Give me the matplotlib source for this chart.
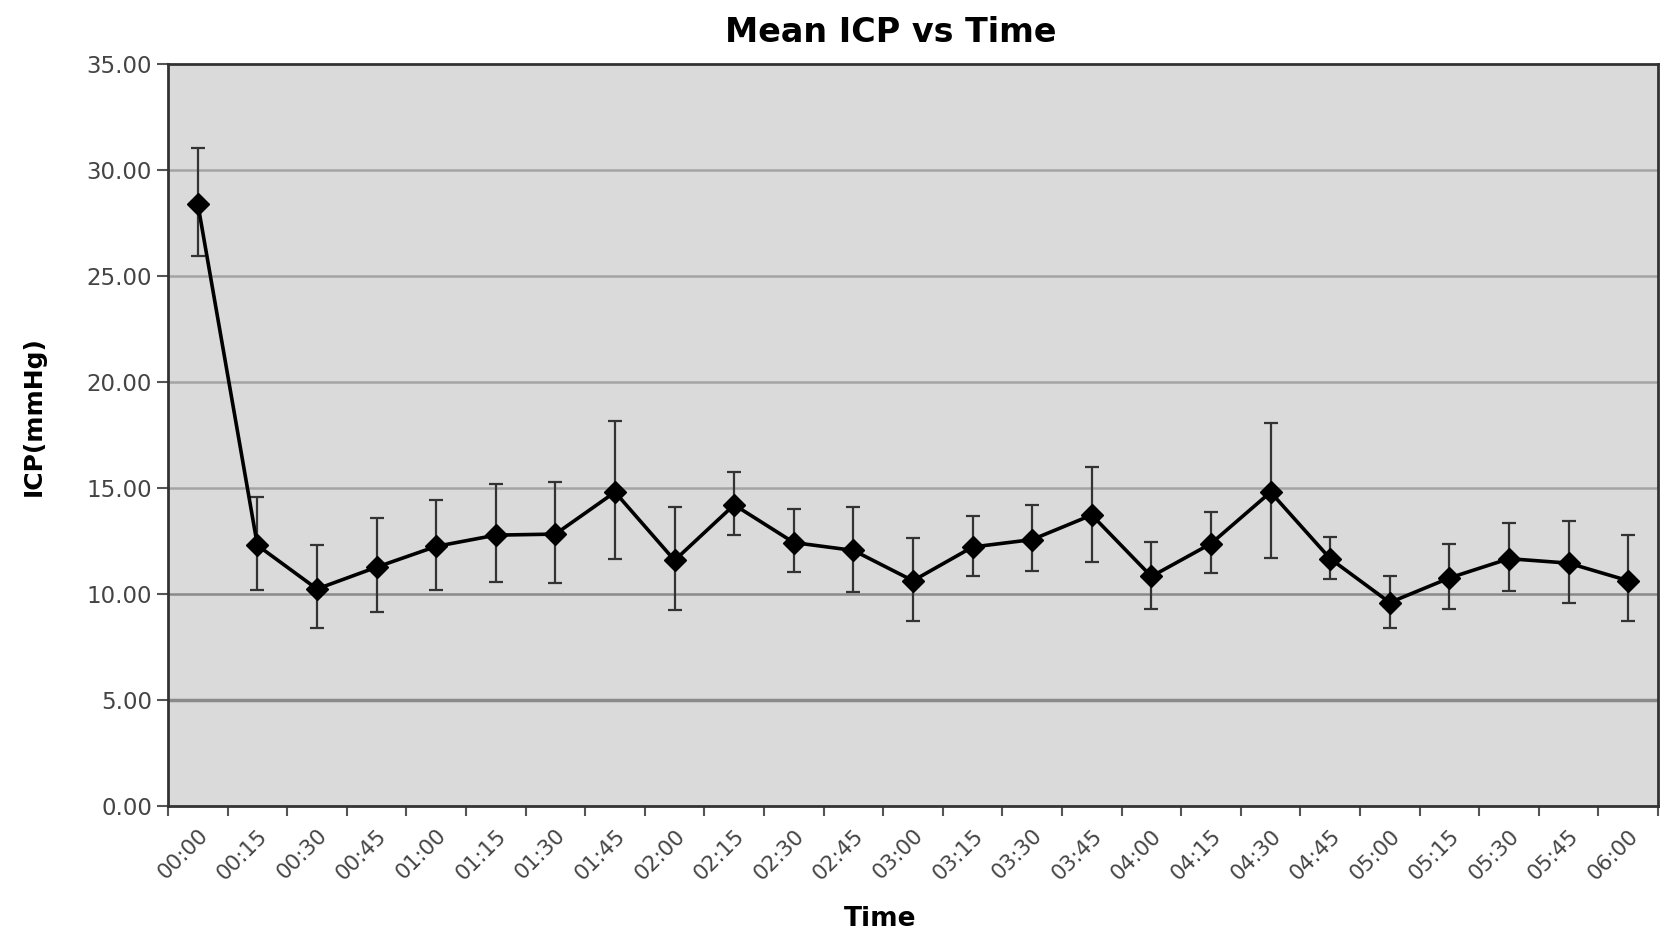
import matplotlib
matplotlib.use("Agg")
import matplotlib.pyplot as plt
import numpy as np

plt.rcParams['font.family'] = ['DejaVu Sans']

times = ["00:00", "00:15", "00:30", "00:45", "01:00", "01:15", "01:30", "01:45",
         "02:00", "02:15", "02:30", "02:45", "03:00", "03:15", "03:30", "03:45",
         "04:00", "04:15", "04:30", "04:45", "05:00", "05:15", "05:30", "05:45",
         "06:00"]
icp_mean = [28.41, 12.30, 10.24, 11.27, 12.25, 12.78, 12.83, 14.81,
            11.59, 14.21, 12.43, 12.06, 10.63, 12.22, 12.57, 13.73,
            10.83, 12.38, 14.81, 11.67, 9.60, 10.76, 11.67, 11.46,
            10.63]
# ends of the error bars
err_top = [31.06, 14.57, 12.30, 13.57, 14.44, 15.19, 15.29, 18.16,
           14.13, 15.78, 14.00, 14.13, 12.63, 13.68, 14.21, 16.00,
           12.48, 13.89, 18.05, 12.71, 10.86, 12.38, 13.33, 13.43,
           12.78]
err_bot = [25.96, 10.19, 8.41, 9.16, 10.19, 10.57, 10.52, 11.67,
           9.27, 12.81, 11.05, 10.11, 8.73, 10.87, 11.11, 11.52,
           9.29, 11.00, 11.71, 10.71, 8.41, 9.29, 10.13, 9.57,
           8.73]

x = np.arange(len(times))
y = np.array(icp_mean)
yerr = [y - np.array(err_bot), np.array(err_top) - y]

fig = plt.figure(figsize=(16.7, 9.3), dpi=100)
ax = fig.add_axes([0.1006, 0.1333, 0.8922, 0.7977])
ax.set_facecolor('#d9dad9')

for v in np.arange(5, 35, 5):
    c = '#8a8a8a' if v in (5, 10) else '#a4a4a4'
    lw = 2.5 if v == 5 else 1.8
    ax.axhline(v, color=c, linewidth=lw, zorder=1)

ax.errorbar(x, y, yerr=yerr, fmt='none', ecolor='#333333', elinewidth=1.6,
            capsize=5, capthick=1.6, zorder=2)
ax.plot(x, y, color='black', linewidth=2.6, marker='D', markersize=11, zorder=3)

ax.set_xlim(-0.5, len(times) - 0.5)
ax.set_ylim(0, 35)
ax.set_yticks(np.arange(0, 35.01, 5))
ax.set_yticklabels(["%.2f" % v for v in np.arange(0, 35.01, 5)])
ax.set_xticks(x)
ax.set_xticklabels(times, rotation=45, ha='right', rotation_mode='anchor')
ax.set_xticks(np.arange(-0.5, len(times), 1), minor=True)
ax.tick_params(axis='x', which='major', length=0, pad=14, labelsize=15.5, labelcolor='#444444')
ax.tick_params(axis='x', which='minor', length=7, width=1.5, color='#555555', direction='out')
ax.tick_params(axis='y', length=8, width=1.5, color='#555555', labelsize=16.5, labelcolor='#444444')

for s in ax.spines.values():
    s.set_color('#333333')
    s.set_linewidth(2)

ax.set_title('Mean ICP vs Time', fontsize=24, fontweight='bold', pad=16, x=0.485)
ax.set_ylabel('ICP(mmHg)', fontsize=18, fontweight='bold')
ax.yaxis.set_label_coords(-0.082, 0.525)
ax.set_xlabel('Time', fontsize=19, fontweight='bold', labelpad=12)
ax.xaxis.set_label_coords(0.478, -0.135)

fig.savefig('out.png', dpi=100)
